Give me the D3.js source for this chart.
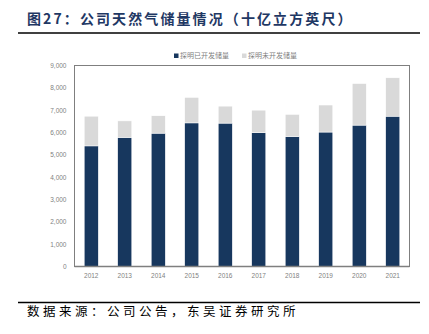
<!DOCTYPE html>
<html><head><meta charset="utf-8">
<script src="https://cdn.jsdelivr.net/npm/d3@7"></script>
<style>
html,body{margin:0;padding:0;background:#fff;}
svg{display:block;}
</style></head>
<body>
<svg id="c" width="429" height="334"></svg>
<script>
const years = ["2012","2013","2014","2015","2016","2017","2018","2019","2020","2021"];
const developed = [5400,5780,5970,6430,6420,5990,5820,6020,6330,6730];
const undeveloped = [1330,740,780,1140,760,1010,990,1210,1860,1720];
const seriesNames = ["探明已开发储量","探明未开发储量"];
const yTicks = [0,1000,2000,3000,4000,5000,6000,7000,8000,9000];
const colors = ["#17375e","#d9d9d9"];

const svg = d3.select("#c");
const m = {l:74.5, r:409.5, t:65.5, b:266.5};

// Title
svg.append("text").attr("x",27).attr("y",24)
  .attr("font-family","'Noto Sans CJK SC'").attr("font-size",14).attr("font-weight","bold")
  .attr("fill","#1f3864").attr("letter-spacing",2.1)
  .text("图27：公司天然气储量情况（十亿立方英尺）");
svg.append("line").attr("x1",18).attr("x2",420).attr("y1",33).attr("y2",33)
  .attr("stroke","#000").attr("stroke-width",1.6);

const table = years.map((y,i)=>({year:y, a:developed[i], b:undeveloped[i]}));
const stack = d3.stack().keys(["a","b"])(table);

const x = d3.scaleBand().domain(years).range([m.l,m.r]).paddingInner(0.58).paddingOuter(0.29);
const y = d3.scaleLinear().domain([0,9000]).range([m.b,m.t]);

// Bars
svg.append("g").selectAll("g").data(stack).join("g").attr("fill",(d,i)=>colors[i])
  .selectAll("rect").data(d=>d).join("rect")
  .attr("x",d=>x(d.data.year)).attr("width",x.bandwidth())
  .attr("y",d=>y(d[1])).attr("height",d=>y(d[0])-y(d[1]))
  .attr("stroke","#fff").attr("stroke-width",0.5);

// Border
svg.append("rect").attr("x",m.l).attr("y",m.t).attr("width",m.r-m.l).attr("height",m.b-m.t)
  .attr("fill","none").attr("stroke","#7f7f7f").attr("stroke-width",1);
svg.append("line").attr("x1",m.l).attr("x2",m.r).attr("y1",m.b).attr("y2",m.b)
  .attr("stroke","#7f7f7f").attr("stroke-width",1.5);

// Y axis
const ya = svg.append("g").attr("transform",`translate(${m.l},0)`)
  .call(d3.axisLeft(y).tickValues(yTicks).tickSize(0).tickPadding(8).tickFormat(d3.format(",")));
ya.select(".domain").remove();
ya.selectAll("text").attr("font-family","'Liberation Sans'").attr("font-size",6.5).attr("fill","#7f7f7f");

// X axis
const xa = svg.append("g").attr("transform",`translate(0,${m.b})`)
  .call(d3.axisBottom(x).tickSize(0).tickPadding(7));
xa.select(".domain").remove();
xa.selectAll("text").attr("font-family","'Liberation Sans'").attr("font-size",6.5).attr("fill","#7f7f7f");

// Legend
const lg = [{x:174,name:seriesNames[0],c:colors[0]},{x:242,name:seriesNames[1],c:colors[1]}];
const lgs = svg.append("g").selectAll("g").data(lg).join("g").attr("transform",d=>`translate(${d.x},56)`);
lgs.append("rect").attr("x",0).attr("y",-2.5).attr("width",4.5).attr("height",4.5).attr("fill",d=>d.c);
lgs.append("text").attr("x",6).attr("y",0).attr("dy","0.35em")
  .attr("font-family","'Noto Sans CJK SC'").attr("font-size",7).attr("fill","#7f7f7f").text(d=>d.name);

// Footer
svg.append("line").attr("x1",18).attr("x2",420).attr("y1",302.5).attr("y2",302.5)
  .attr("stroke","#000").attr("stroke-width",1.3);
svg.append("text").attr("x",27).attr("y",315.5)
  .attr("font-family","'Noto Sans CJK SC'").attr("font-size",12.5).attr("fill","#000")
  .attr("letter-spacing",3.5)
  .text("数据来源：公司公告，东吴证券研究所");
</script>
</body></html>
